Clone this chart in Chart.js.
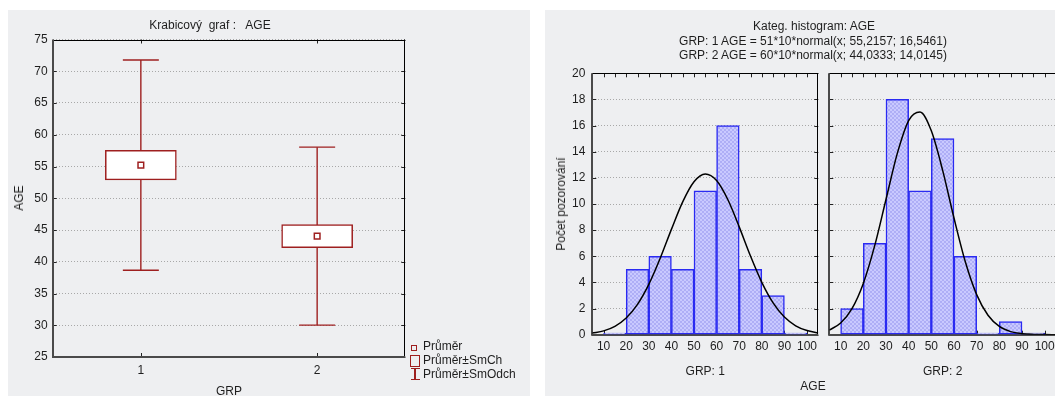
<!DOCTYPE html>
<html><head><meta charset="utf-8">
<script src="https://cdn.jsdelivr.net/npm/chart.js@4.4.1/dist/chart.umd.min.js"></script>
<style>
html,body{margin:0;padding:0;background:#fff;width:1055px;height:396px;overflow:hidden;position:relative;font-family:"Liberation Sans",Arial,sans-serif;font-size:12px;color:#1e1e1e}
.panel{position:absolute;background:#eeeff1}
canvas{position:absolute}
.t{position:absolute;line-height:14px;white-space:pre}
.c{transform:translateX(-50%)}
.r{transform:translate(-50%,-50%) rotate(-90deg)}
.ic{position:absolute;box-sizing:border-box}
</style></head><body>
<div class="panel" style="left:8px;top:10px;width:522px;height:386px"></div>
<div class="panel" style="left:545px;top:10px;width:510px;height:386px"></div>
<canvas id="box" width="522" height="386" style="left:8px;top:10px"></canvas>
<canvas id="h1" width="280" height="386" style="left:545px;top:10px"></canvas>
<canvas id="h2" width="240" height="386" style="left:825px;top:10px"></canvas>

<div class="t c" style="left:210px;top:18px">Krabicový  graf :   AGE</div>
<div class="t r" style="left:19px;top:198px">AGE</div>
<div class="t c" style="left:229px;top:384px">GRP</div>

<div class="ic" style="left:411px;top:345px;width:5.5px;height:5.5px;border:1.4px solid #9e1f1f"></div>
<div class="ic" style="left:410px;top:355px;width:10px;height:11.5px;border:1.4px solid #9e1f1f"></div>
<div class="ic" style="left:414.3px;top:368px;width:1.4px;height:11px;background:#9e1f1f"></div>
<div class="ic" style="left:410.5px;top:367.5px;width:9px;height:1.4px;background:#9e1f1f"></div>
<div class="ic" style="left:410.5px;top:378.5px;width:9px;height:1.4px;background:#9e1f1f"></div>
<div class="t" style="left:423px;top:339.3px">Průměr</div>
<div class="t" style="left:423px;top:353.3px">Průměr±SmCh</div>
<div class="t" style="left:423px;top:366.7px">Průměr±SmOdch</div>

<div class="t c" style="left:814px;top:18.5px">Kateg. histogram: AGE</div>
<div class="t c" style="left:813px;top:33.5px">GRP: 1 AGE = 51*10*normal(x; 55,2157; 16,5461)</div>
<div class="t c" style="left:813px;top:47.5px">GRP: 2 AGE = 60*10*normal(x; 44,0333; 14,0145)</div>
<div class="t r" style="left:561px;top:204px">Počet pozorování</div>
<div class="t c" style="left:705.3px;top:363.5px">GRP: 1</div>
<div class="t c" style="left:942.7px;top:363.5px">GRP: 2</div>
<div class="t c" style="left:813px;top:379px">AGE</div>

<script>
// ---------- data: box plot ----------
const groups = [1, 2];
const groupLabels = ['1', '2'];
const meanAge = [55.2157, 44.0333];
const seLow = [52.90, 42.22];
const seHigh = [57.53, 45.84];
const sdLow = [38.67, 30.02];
const sdHigh = [71.76, 58.05];
const boxYTicks = [25, 30, 35, 40, 45, 50, 55, 60, 65, 70, 75];

// ---------- data: histograms ----------
const binMid = [15, 25, 35, 45, 55, 65, 75, 85, 95];
const counts1 = [0, 5, 6, 5, 11, 16, 5, 3, 0];
const counts2 = [2, 7, 18, 11, 15, 6, 0, 1, 0];
const curveX = [5, 10, 15, 20, 25, 30, 35, 40, 45, 50, 55, 60, 65, 70, 75, 80, 85, 90, 95, 100, 105];
const curve1 = [0.123, 0.294, 0.641, 1.277, 2.321, 3.851, 5.830, 8.057, 10.163, 11.701, 12.296, 11.793, 10.324, 8.250, 6.016, 4.005, 2.433, 1.349, 0.683, 0.316, 0.133];
const curve2 = [0.353, 0.895, 1.998, 3.926, 6.792, 10.346, 13.876, 16.387, 17.039, 15.601, 12.575, 8.925, 5.579, 3.069, 1.488, 0.635, 0.238, 0.079, 0.023, 0.006, 0.001];
const histXTicks = [10, 20, 30, 40, 50, 60, 70, 80, 90, 100];
const histYTicks = [0, 2, 4, 6, 8, 10, 12, 14, 16, 18, 20];

const MAROON = '#9e1f1f';
const BLUE = '#2a2af2';
Chart.defaults.font.family = '"Liberation Sans", Arial, sans-serif';
Chart.defaults.font.size = 12;
Chart.defaults.color = '#1e1e1e';

const framePlugin = {
  id: 'frame',
  beforeDatasetsDraw(chart, args, o) {
    const {ctx, chartArea: a, scales} = chart;
    const L = 4;
    ctx.save();
    ctx.lineWidth = 1; ctx.strokeStyle = '#222';
    ctx.beginPath();
    scales.y.ticks.forEach(t => {
      const y = Math.round(scales.y.getPixelForValue(t.value)) + 0.5;
      if (o.left) { ctx.moveTo(a.left, y); ctx.lineTo(a.left + L, y); }
      if (o.right) { ctx.moveTo(a.right, y); ctx.lineTo(a.right - L, y); }
    });
    (o.topTicks || []).forEach(v => {
      const x = Math.round(scales.x.getPixelForValue(v)) + 0.5;
      ctx.moveTo(x, a.top); ctx.lineTo(x, a.top + L);
    });
    (o.bottomTicks || []).forEach(v => {
      const x = Math.round(scales.x.getPixelForValue(v)) + 0.5;
      ctx.moveTo(x, a.bottom); ctx.lineTo(x, a.bottom - L);
    });
    ctx.stroke();
    ctx.strokeStyle = '#000'; ctx.lineWidth = 1;
    ctx.beginPath();
    ctx.moveTo(a.left, Math.round(a.top) + 0.5); ctx.lineTo(a.right, Math.round(a.top) + 0.5);
    ctx.moveTo(Math.round(a.right) - 0.5, a.top); ctx.lineTo(Math.round(a.right) - 0.5, a.bottom);
    ctx.stroke();
    ctx.strokeStyle = '#4a4a4a'; ctx.lineWidth = 2;
    ctx.beginPath();
    ctx.moveTo(Math.round(a.left), a.top); ctx.lineTo(Math.round(a.left), a.bottom + 1);
    ctx.moveTo(a.left, Math.round(a.bottom)); ctx.lineTo(a.right, Math.round(a.bottom));
    ctx.stroke();
    ctx.restore();
  }
};

function setTicks(list) { return function (scale) { scale.ticks = list.map(v => ({value: v})); }; }
function fixW(w) { return function (scale) { scale.width = w; }; }
function fixH(h) { return function (scale) { scale.height = h; }; }

// ---------- box plot ----------
const whiskerData = groups.flatMap((g, i) => [{x: g, y: sdLow[i]}, {x: g, y: sdHigh[i]}, {x: g, y: null}]);
const capData = groups.flatMap((g, i) => [{x: g, y: sdLow[i]}, {x: g, y: sdHigh[i]}]);

new Chart(document.getElementById('box'), {
  type: 'scatter',
  data: {
    datasets: [
      {type: 'line', data: whiskerData, borderColor: MAROON, borderWidth: 1.4, pointRadius: 0, spanGaps: false, order: 4},
      {type: 'scatter', data: capData, pointStyle: 'line', pointRadius: 18, pointBorderColor: MAROON, borderColor: MAROON, pointBorderWidth: 1.4, borderWidth: 1.4, order: 3},
      {type: 'bar', data: groups.map((g, i) => ({x: g, y: [seLow[i], seHigh[i]]})), backgroundColor: '#fff', borderColor: MAROON, borderWidth: 1.5, borderSkipped: false, barThickness: 71, order: 2},
      {type: 'scatter', data: groups.map((g, i) => ({x: g, y: meanAge[i]})), pointStyle: 'rect', pointRadius: 4, pointBackgroundColor: '#fff', pointBorderColor: MAROON, pointBorderWidth: 1.5, order: 1}
    ]
  },
  options: {
    responsive: false, animation: false, devicePixelRatio: 1, events: [],
    layout: {padding: {left: 0, top: 29.5, right: 124.7, bottom: 0}},
    plugins: {legend: {display: false}, tooltip: {enabled: false},
      frame: {left: true, right: true, topTicks: groups, bottomTicks: groups}},
    scales: {
      x: {type: 'linear', min: 0.5, max: 2.5, offset: false,
        grid: {display: false, drawTicks: false, offset: false}, border: {display: false},
        afterBuildTicks: setTicks(groups), afterFit: fixH(39),
        ticks: {padding: 6.3, maxRotation: 0, callback: (v) => groupLabels[groups.indexOf(v)]}},
      y: {type: 'linear', min: 25, max: 75, beginAtZero: false,
        grid: {color: '#a8a8a8', drawTicks: false}, border: {display: false, dash: [1, 2]},
        afterBuildTicks: setTicks(boxYTicks), afterFit: fixW(44.7),
        ticks: {padding: 5}}
    }
  },
  plugins: [framePlugin]
});

// ---------- histograms ----------
function hatch() {
  const c = document.createElement('canvas'); c.width = 4; c.height = 4;
  const x = c.getContext('2d');
  x.fillStyle = '#c9c9ff'; x.fillRect(0, 0, 4, 4);
  x.fillStyle = '#aeaef6';
  for (let i = 0; i < 4; i++) { x.fillRect(i, i, 1, 1); x.fillRect(3 - i, i, 1, 1); }
  return x.createPattern(c, 'repeat');
}
const pattern = hatch();
const minorTop = [];
for (let v = 10; v <= 100; v += 5) minorTop.push(v);

function histChart(id, counts, curve, opts) {
  return new Chart(document.getElementById(id), {
    type: 'scatter',
    data: {
      datasets: [
        {type: 'bar', data: binMid.map((m, i) => ({x: m, y: counts[i]})), backgroundColor: pattern, borderColor: BLUE,
          borderWidth: 1.5, borderSkipped: false, categoryPercentage: 1, barPercentage: 1, minBarLength: 1.5, order: 2},
        {type: 'line', data: curveX.map((x, i) => ({x: x, y: curve[i]})), borderColor: '#000', borderWidth: 1.5,
          pointRadius: 0, cubicInterpolationMode: 'monotone', fill: false, order: 1}
      ]
    },
    options: {
      responsive: false, animation: false, devicePixelRatio: 1, events: [],
      layout: {padding: {left: 0, top: 63.3, right: opts.padRight, bottom: 0}},
      plugins: {legend: {display: false}, tooltip: {enabled: false},
        frame: {left: true, right: opts.rightTicks, topTicks: minorTop, bottomTicks: histXTicks}},
      scales: {
        x: {type: 'linear', min: 5, max: 105, offset: false,
          grid: {display: false, drawTicks: false, offset: false}, border: {display: false},
          afterBuildTicks: setTicks(histXTicks), afterFit: fixH(61.3),
          ticks: {padding: 4.8, maxRotation: 0, autoSkip: false}},
        y: {type: 'linear', min: 0, max: 20, beginAtZero: true,
          grid: {color: '#a8a8a8', drawTicks: false}, border: {display: false, dash: [1, 2]},
          afterBuildTicks: setTicks(histYTicks), afterFit: fixW(opts.yWidth),
          ticks: {padding: 7, display: opts.yLabels}}
      }
    },
    plugins: [framePlugin]
  });
}
histChart('h1', counts1, curve1, {padRight: 6.7, yWidth: 47.3, yLabels: true, rightTicks: true});
histChart('h2', counts2, curve2, {padRight: 9, yWidth: 4.3, yLabels: false, rightTicks: false});
</script>
</body></html>
